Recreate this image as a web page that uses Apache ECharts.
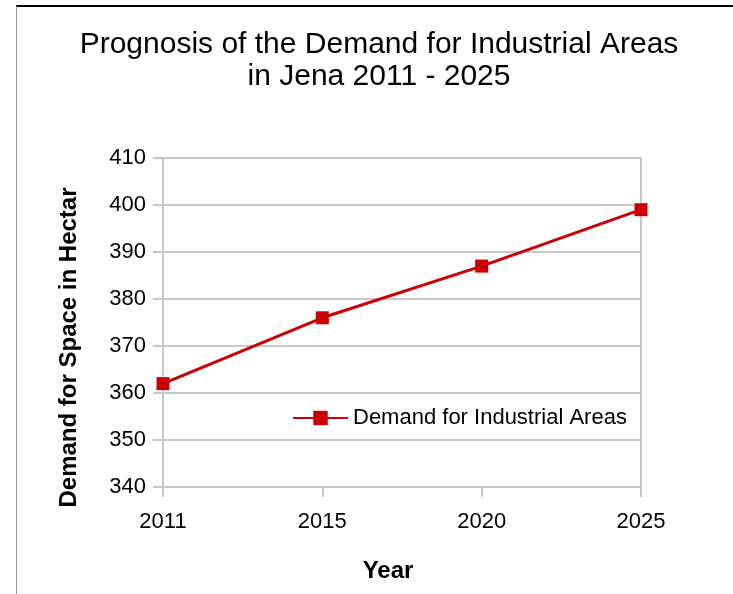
<!DOCTYPE html>
<html>
<head>
<meta charset="utf-8">
<script src="https://cdn.jsdelivr.net/npm/echarts@6/dist/echarts.min.js"></script>
<style>html,body{margin:0;padding:0;background:#fff}#c{width:733px;height:594px}</style>
</head>
<body>
<div id="c"></div>
<script>
var years = ['2011', '2015', '2020', '2025'];
var demand = [362, 376, 387, 399];
var seriesName = 'Demand for Industrial Areas';
var titleText = 'Prognosis of the Demand for Industrial Areas\nin Jena 2011 - 2025';

var chart = echarts.init(document.getElementById('c'));
var font = 'Liberation Sans';
var gridColor = '#c8c8c8';
chart.setOption({
  animation: false,
  backgroundColor: '#fff',
  title: {
    text: titleText,
    left: 374, top: 24, textAlign: 'center',
    textStyle: {fontFamily: font, fontSize: 30, fontWeight: 'normal', color: '#000', lineHeight: 32}
  },
  graphic: [
    {type: 'line', shape: {x1: 16, y1: 6, x2: 733, y2: 6}, style: {stroke: '#000', lineWidth: 2}},
    {type: 'line', shape: {x1: 16.5, y1: 6, x2: 16.5, y2: 594}, style: {stroke: '#999', lineWidth: 1}}
  ],
  legend: {
    left: 287, top: 402,
    itemWidth: 55, itemHeight: 18,
    textStyle: {fontFamily: font, fontSize: 22, color: '#000'},
    data: [seriesName]
  },
  grid: {left: 163, right: 92, top: 158, bottom: 107, containLabel: false},
  xAxis: {
    type: 'category', data: years, boundaryGap: false,
    name: 'Year', nameLocation: 'middle', nameGap: 72,
    nameTextStyle: {fontFamily: font, fontSize: 24, fontWeight: 'bold', color: '#000', padding: [0, 28, 0, 0]},
    axisLine: {lineStyle: {color: gridColor, width: 2}},
    axisTick: {show: true, length: 10, lineStyle: {color: gridColor, width: 2}},
    axisLabel: {fontFamily: font, fontSize: 22, color: '#000', margin: 24},
    splitLine: {show: false}
  },
  yAxis: [{
    type: 'value', min: 340, max: 410, interval: 10,
    name: 'Demand for Space in Hectar', nameLocation: 'middle', nameGap: 82, nameRotate: 90,
    nameTextStyle: {fontFamily: font, fontSize: 24, fontWeight: 'bold', color: '#000', padding: [0, 50, 0, 0]},
    axisLine: {show: true, lineStyle: {color: gridColor, width: 2}},
    axisTick: {show: true, length: 10, lineStyle: {color: gridColor, width: 2}},
    axisLabel: {fontFamily: font, fontSize: 22, color: '#000', margin: 17},
    splitLine: {show: true, lineStyle: {color: gridColor, width: 2}}
  }, {
    type: 'value', min: 340, max: 410, interval: 10, position: 'right',
    axisLine: {show: true, lineStyle: {color: gridColor, width: 2}},
    axisTick: {show: false}, axisLabel: {show: false}, splitLine: {show: false}
  }],
  series: [{
    name: seriesName, type: 'line', data: demand,
    symbol: 'rect', symbolSize: 13,
    lineStyle: {color: '#cc0000', width: 3},
    itemStyle: {color: '#cc0000'}
  }]
});
</script>
</body>
</html>
